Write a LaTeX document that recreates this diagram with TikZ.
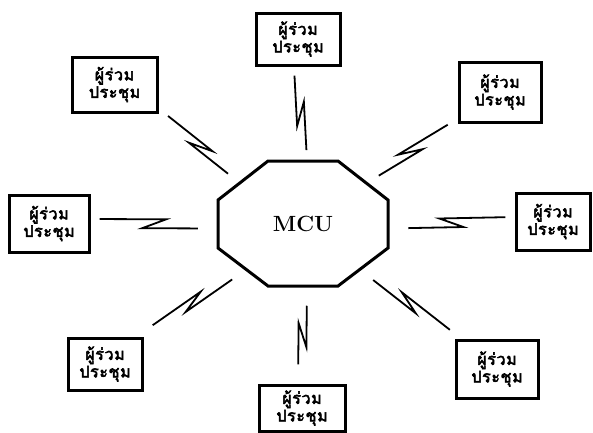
\documentclass[tikz,border=0pt]{standalone}
\usepackage{fontspec}
\newfontfamily\thaifont[Script=Thai, FakeBold=3.5, LetterSpace=4]{Loma}
\usetikzlibrary{calc}

\tikzset{
  % participant boxes
  member/.style={draw, line width=3pt, inner sep=0pt, align=center,
    minimum width=80pt, minimum height=55pt,
    font=\thaifont\fontsize{16}{17.5}\selectfont},
  % the central unit
  hub/.style={inner sep=0pt, minimum width=170pt, minimum height=125pt,
    font=\bfseries\fontsize{22}{26}\selectfont},
  hubline/.style={line width=3pt, line join=miter},
  link/.style={line width=1.8pt, line join=miter},
  gap start/.store in=\lnkgapA, gap start=9,
  gap end/.store in=\lnkgapB, gap end=16,
  % straight link broken by a lightning jog in its middle;
  % the argument is half the sideways shift between the two halves
  bolt/.style={to path={
    let \p1=($(\tikztotarget)-(\tikztostart)$),
        \n1={atan2(\y1,\x1)},
        \n2={veclen(\x1,\y1)}
    in ($(\tikztostart)+(\n1:{\lnkgapA*1pt})+({\n1+90}:{-1*(#1)})$)
    -- ($(\tikztostart)+(\n1:{(0.5*\n2+12)*1pt})+({\n1+90}:{-1*(#1)})$)
    -- ($(\tikztostart)+(\n1:{(0.5*\n2-12)*1pt})+({\n1+90}:{#1})$)
    -- ($(\tikztotarget)+(\n1:{-\lnkgapB*1pt})+({\n1+90}:{#1})$)
  }}
}

\begin{document}
\begin{tikzpicture}[x=1pt,y=-1pt]
  \useasboundingbox (0,0) rectangle (593,432);

  % central MCU octagon
  \node[hub] (mcu) at (303,224) {MCU};
  \draw[hubline]
    ($(mcu.center)+(-35,-63)$) -- ($(mcu.center)+(35,-63)$)
    -- ($(mcu.center)+(85,-24)$) -- ($(mcu.center)+(85,24)$)
    -- ($(mcu.center)+(35,62)$) -- ($(mcu.center)+(-35,62)$)
    -- ($(mcu.center)+(-85,24)$) -- ($(mcu.center)+(-85,-24)$) -- cycle;
  \coordinate (mcu-ne) at ($(mcu.center)+(60,-43.5)$);
  \coordinate (mcu-nw) at ($(mcu.center)+(-60,-43.5)$);
  \coordinate (mcu-se) at ($(mcu.center)+(60,43)$);
  \coordinate (mcu-sw) at ($(mcu.center)+(-60,43)$);

  % conference participants
  \node[member, minimum width=84pt, minimum height=52pt] (mtop) at (298,39) {ผู้ร่วม\\ประชุม};
  \node[member, minimum width=85pt] (mul) at (114.5,84.5) {ผู้ร่วม\\ประชุม};
  \node[member, minimum width=82pt, minimum height=60pt] (mur) at (500,92) {ผู้ร่วม\\ประชุม};
  \node[member, minimum height=57pt] (ml) at (49,223.5) {ผู้ร่วม\\ประชุม};
  \node[member, minimum width=74pt, minimum height=57pt] (mr) at (553,221.5) {ผู้ร่วม\\ประชุม};
  \node[member, minimum width=74pt, minimum height=52pt] (mll) at (105,364) {ผู้ร่วม\\ประชุม};
  \node[member, minimum width=82pt, minimum height=58pt] (mlr) at (497,369) {ผู้ร่วม\\ประชุม};
  \node[member, minimum width=86pt, minimum height=46pt] (mb) at (302,408) {ผู้ร่วม\\ประชุม};

  % links
  \draw[link, gap end=11] (mtop.south) to[bolt=4pt] (mcu.north);
  \draw[link, gap start=19, gap end=19] (mb.north) to[bolt=-4pt] (mcu.south);
  \draw[link, gap end=20] (ml.east) to[bolt=-4.5pt] (mcu.west);
  \draw[link, gap end=20] (mr.west) to[bolt=4.5pt] (mcu.east);
  \draw[link] (mul.south east) to[bolt=-4pt] (mcu-nw);
  \draw[link] (mur.south west) to[bolt=4pt] (mcu-ne);
  \draw[link, gap start=14] (mll.north east) to[bolt=-4pt] (mcu-sw);
  \draw[link] (mlr.north west) to[bolt=4pt] (mcu-se);
\end{tikzpicture}
\end{document}
